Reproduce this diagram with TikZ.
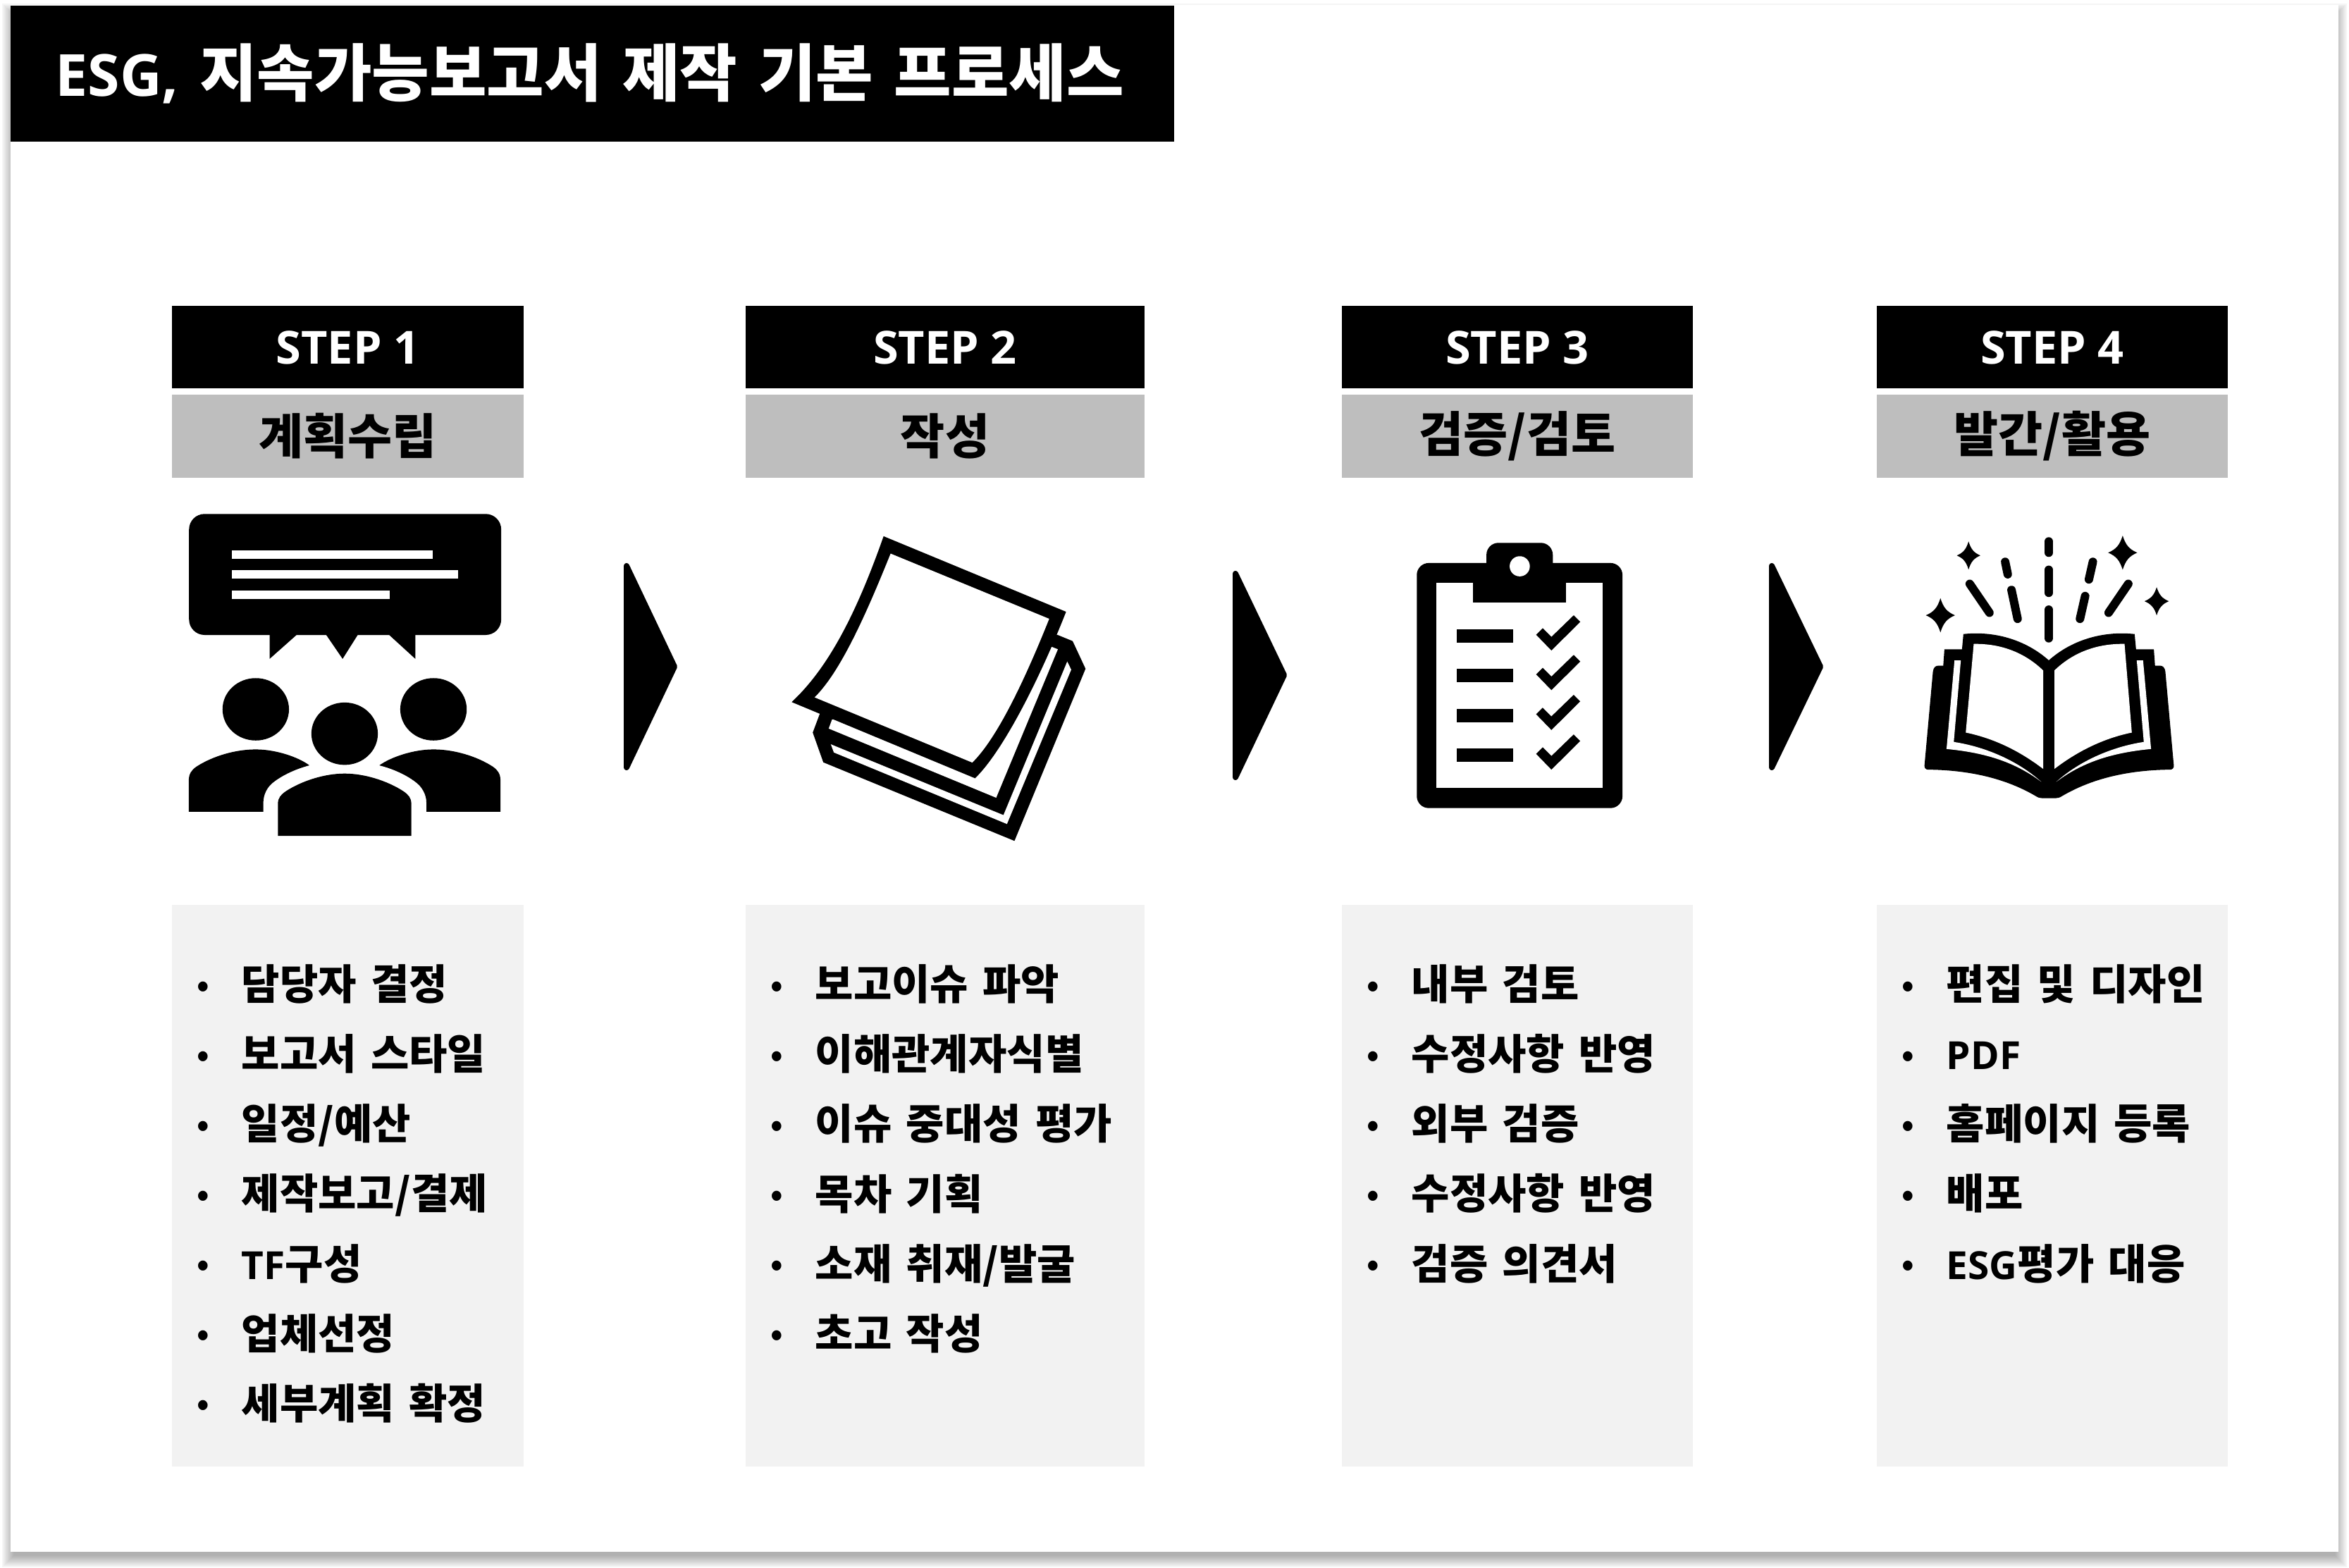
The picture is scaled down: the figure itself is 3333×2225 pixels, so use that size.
\documentclass[tikz,border=0pt]{standalone}
\usepackage{fontspec}
\setmainfont{Noto Sans CJK KR}[WordSpace=1.5]
\newfontfamily\titlefont{Noto Sans CJK KR}[WordSpace=2.6]
\newfontfamily\latfont{Open Sans}[Scale=0.93]
\usetikzlibrary{positioning}
\definecolor{stepgray}{HTML}{BEBEBE}
\definecolor{listgray}{HTML}{F2F2F2}
\newcommand{\itm}{\makebox[0.63cm][l]{\raisebox{1.6pt}{\fontsize{12.5}{12}\selectfont •}}}
\newcommand{\sparkle}[4]{\fill[shift={(#1,#2)},xscale=#3,yscale=#4] (0,-1) .. controls (.2,-.45) and (.45,-.2) .. (1,0) .. controls (.45,.2) and (.2,.45) .. (0,1) .. controls (-.2,.45) and (-.45,.2) .. (-1,0) .. controls (-.45,-.2) and (-.2,-.45) .. (0,-1) -- cycle;}
\tikzset{
  titlebox/.style={
    rectangle, fill=black, text=white,
    text width=15.23cm, align=left, inner xsep=0.64cm, inner ysep=0pt,
    minimum height=1.93cm, font=\fontsize{25.2}{30}\selectfont\bfseries\titlefont
  },
  headbox/.style={
    rectangle, fill=black, text=white, inner sep=0pt,
    text height=0.484cm, text depth=0pt,
    minimum height=1.17cm, font=\fontsize{19.8}{22}\selectfont\bfseries\latfont
  },
  subbox/.style={
    rectangle, fill=stepgray, inner sep=0pt,
    minimum height=1.17cm, font=\fontsize{19.5}{22}\selectfont\bfseries
  },
  listbox/.style={rectangle, fill=listgray, inner sep=0pt, minimum height=7.97cm},
  listtext/.style={
    inner sep=0pt, align=left,
    font=\fontsize{16.8}{28.17}\selectfont\bfseries
  },
  chevron/.style={fill=black, draw=black, line width=0.08cm, line join=round},
  ray/.style={draw=black, line width=0.12cm, line cap=round},
}
\begin{document}
\begin{tikzpicture}[x=0.01cm,y=-0.01cm,node distance=0.08cm]
  \useasboundingbox (0,0) rectangle (3333,2225);
  % slide and its shadow
  \foreach \d in {12,10,8,6,4,2,0,-2,-4}
    \fill[black,opacity=0.04] (15-\d,17-\d) rectangle (3318+\d,2212+\d);
  \fill[white] (15,7) rectangle (3318,2202);

  \node[titlebox] (title) at (840.5,104.5) {{\latfont ESG,} 지속가능보고서 제작 기본 프로세스};

  % step headers
  \node[headbox, minimum width=4.99cm] (stepa) at (493.5,492.5) {STEP 1};
  \node[subbox, minimum width=4.99cm, below=of stepa] (suba) {계획수립};
  \node[headbox, minimum width=5.66cm] (stepb) at (1341,492.5) {STEP 2};
  \node[subbox, minimum width=5.66cm, below=of stepb] (subb) {작성};
  \node[headbox, minimum width=4.98cm] (stepc) at (2153,492.5) {STEP 3};
  \node[subbox, minimum width=4.98cm, below=of stepc] (subc) {검증/검토};
  \node[headbox, minimum width=4.98cm] (stepd) at (2912,492.5) {STEP 4};
  \node[subbox, minimum width=4.98cm, below=of stepd] (subd) {발간/활용};

  % lists
  \node[listbox, minimum width=4.99cm, below=7.31cm of stepa.south] (lista) {};
  \node[listbox, minimum width=5.66cm, below=7.31cm of stepb.south] (listb) {};
  \node[listbox, minimum width=4.98cm, below=7.31cm of stepc.south] (listc) {};
  \node[listbox, minimum width=4.98cm, below=7.31cm of stepd.south] (listd) {};
  \node[listtext, below right=0.85cm and 0.36cm of lista.north west] (itemsa)
    {\itm 담당자 결정\\\itm 보고서 스타일\\\itm 일정/예산\\\itm 제작보고/결제\\\itm {\latfont TF}구성\\\itm 업체선정\\\itm 세부계획 확정};
  \node[listtext, below right=0.85cm and 0.36cm of listb.north west] (itemsb)
    {\itm 보고이슈 파악\\\itm 이해관계자식별\\\itm 이슈 중대성 평가\\\itm 목차 기획\\\itm 소재 취재/발굴\\\itm 초고 작성};
  \node[listtext, below right=0.85cm and 0.36cm of listc.north west] (itemsc)
    {\itm 내부 검토\\\itm 수정사항 반영\\\itm 외부 검증\\\itm 수정사항 반영\\\itm 검증 의견서};
  \node[listtext, below right=0.85cm and 0.36cm of listd.north west] (itemsd)
    {\itm 편집 및 디자인\\\itm {\latfont PDF}\\\itm 홈페이지 등록\\\itm 배포\\\itm {\latfont ESG}평가 대응};

  % chevrons between steps
  \path[chevron] (889,803) -- (957,946) -- (889,1089) -- cycle;
  \path[chevron] (1753,814) -- (1822,958) -- (1753,1103) -- cycle;
  \path[chevron] (2514,803) -- (2583,946) -- (2514,1089) -- cycle;

  % people with speech bubble
  \begin{scope}[shift={(220,700)},x=0.00357cm,y=-0.00333cm]
    \fill[rounded corners=0.22cm] (135,88) rectangle (1375,604);
    \fill (455,600) -- (455,706) -- (562,604) -- (562,600) -- cycle;
    \fill (680,600) -- (680,604) -- (745,706) -- (805,604) -- (805,600) -- cycle;
    \fill (930,600) -- (930,604) -- (1034,706) -- (1034,600) -- cycle;
    \fill[white] (305,243) rectangle (1103,278);
    \fill[white] (305,329) rectangle (1205,364);
    \fill[white] (305,415) rectangle (932,450);
    \fill (400,921) ellipse[x radius=132,y radius=133];
    \fill (753,1025) ellipse[x radius=132,y radius=133];
    \fill (1106,921) ellipse[x radius=132,y radius=133];
    \fill (134,1358) -- (134,1225) .. controls (134,1195) and (145,1180) .. (165,1165)
      .. controls (230,1120) and (320,1092) .. (400,1092) .. controls (480,1092) and (570,1125) .. (613,1160)
      .. controls (560,1175) and (510,1200) .. (475,1228) .. controls (445,1250) and (430,1285) .. (430,1320)
      -- (430,1358) -- cycle;
    \fill (1372,1358) -- (1372,1225) .. controls (1372,1195) and (1361,1180) .. (1341,1165)
      .. controls (1276,1120) and (1186,1092) .. (1106,1092) .. controls (1026,1092) and (936,1125) .. (891,1160)
      .. controls (946,1175) and (996,1200) .. (1031,1228) .. controls (1061,1250) and (1078,1285) .. (1078,1320)
      -- (1078,1358) -- cycle;
    \fill (488,1461) -- (488,1325) .. controls (488,1298) and (500,1285) .. (520,1270)
      .. controls (585,1225) and (675,1195) .. (753,1195) .. controls (831,1195) and (921,1225) .. (986,1270)
      .. controls (1006,1285) and (1018,1298) .. (1018,1325) -- (1018,1461) -- cycle;
  \end{scope}

  % stack of notes
  \begin{scope}[shift={(1080,720)},x=0.00333cm,y=-0.00333cm]
    \fill (1262,543) -- (1328,570) -- (1383,688) -- (1080,1422) -- (265,1087) -- (220,960) -- (250,880) -- cycle;
    \fill[white] (302,905) -- (1240,595) -- (1265,605) -- (1002,1238) -- (288,943) -- cycle;
    \fill[white] (297,1010) -- (1033,1312) -- (1305,657) -- (1322,692) -- (1048,1350) -- (310,1045) -- cycle;
    \fill (522,123) -- (1300,445) .. controls (1200,700) and (1040,1030) .. (912,1155)
      -- (130,830) .. controls (280,690) and (400,470) .. (522,123) -- cycle;
    \fill[white] (552,197) -- (1228,475) .. controls (1130,720) and (1010,980) .. (900,1088)
      -- (228,810) .. controls (340,700) and (450,450) .. (552,197) -- cycle;
  \end{scope}

  % clipboard
  \begin{scope}[shift={(1960,740)},x=0.00333cm,y=-0.00333cm]
    \fill[rounded corners=0.17cm] (151,177) rectangle (1028,1222);
    \fill[rounded corners=0.17cm] (448,260) -- (448,91) -- (731,91) -- (731,260) -- cycle;
    \fill[white] (235,262) rectangle (944,1137);
    \fill (391,262) rectangle (787,346);
    \fill[white] (590,191) circle[radius=43];
    \fill (320,459) rectangle (561,516);
    \fill (320,628) rectangle (561,685);
    \fill (320,798) rectangle (561,855);
    \fill (320,967) rectangle (561,1024);
    \fill (688,455) -- (725,492) -- (820,400) -- (848,428) -- (725,550) -- (660,483) -- cycle;
    \fill[shift={(0,169)}] (688,455) -- (725,492) -- (820,400) -- (848,428) -- (725,550) -- (660,483) -- cycle;
    \fill[shift={(0,339)}] (688,455) -- (725,492) -- (820,400) -- (848,428) -- (725,550) -- (660,483) -- cycle;
    \fill[shift={(0,508)}] (688,455) -- (725,492) -- (820,400) -- (848,428) -- (725,550) -- (660,483) -- cycle;
  \end{scope}

  % open book
  \begin{scope}[shift={(2700,740)},x=0.00333cm,y=-0.00333cm]
    \sparkle{160}{400}{62}{73}
    \sparkle{280}{145}{50}{60}
    \sparkle{937}{133}{62}{73}
    \sparkle{1082}{340}{52}{60}
    \draw[ray] (622,85) -- (622,133);
    \draw[ray] (622,206) -- (622,304);
    \draw[ray] (622,376) -- (622,498);
    \draw[ray] (436,172) -- (447,225);
    \draw[ray] (463,292) -- (489,415);
    \draw[ray] (810,172) -- (793,247);
    \draw[ray] (777,318) -- (755,415);
    \draw[ray] (285,266) -- (369,389);
    \draw[ray] (961,266) -- (877,389);
    \fill (92,1040) -- (128,640) .. controls (130,622) and (140,615) .. (150,615) -- (172,615) -- (177,545)
      -- (252,545) -- (258,480) .. controls (400,465) and (530,510) .. (622,592)
      .. controls (714,510) and (844,465) .. (988,480) -- (994,545) -- (1070,545) -- (1075,615) -- (1097,615)
      .. controls (1107,615) and (1117,622) .. (1119,640) -- (1155,1040) .. controls (1156,1050) and (1150,1058) .. (1140,1058)
      .. controls (950,1060) and (800,1100) .. (680,1170) .. controls (670,1177) and (660,1180) .. (650,1180)
      -- (595,1180) .. controls (585,1180) and (575,1177) .. (565,1170)
      .. controls (445,1100) and (295,1060) .. (107,1058) .. controls (97,1058) and (91,1050) .. (92,1040) -- cycle;
    \fill[white] (220,592) -- (247,592) -- (217,940) .. controls (350,960) and (490,1020) .. (590,1110)
      .. controls (470,1020) and (340,985) .. (186,970) -- cycle;
    \fill[white] (1024,592) -- (997,592) -- (1027,940) .. controls (894,960) and (754,1020) .. (654,1110)
      .. controls (774,1020) and (904,985) .. (1058,970) -- cycle;
    \fill[white] (302,522) .. controls (420,520) and (520,560) .. (598,635) -- (598,1055)
      .. controls (500,980) and (390,925) .. (268,900) -- cycle;
    \fill[white] (945,522) .. controls (824,520) and (724,560) .. (646,635) -- (646,1055)
      .. controls (744,980) and (854,925) .. (976,900) -- cycle;
  \end{scope}
\end{tikzpicture}
\end{document}
